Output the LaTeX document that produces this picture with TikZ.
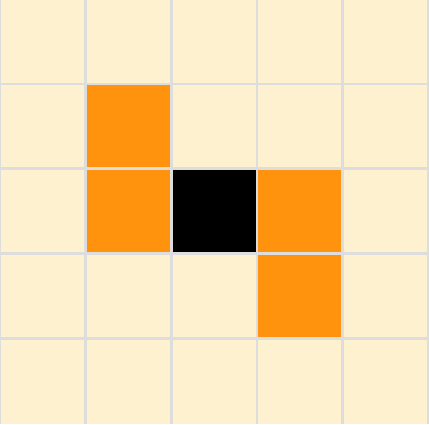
\documentclass[tikz,border=0pt]{standalone}
\definecolor{cream}{HTML}{FEF1D0}
\definecolor{hot}{HTML}{FF930D}
\definecolor{gridgray}{HTML}{DDDDDD}
\tikzset{
  hotcell/.style={fill=hot},
  coldcell/.style={fill=black},
  gridline/.style={draw=gridgray,line width=2.8pt}
}
\begin{document}
\begin{tikzpicture}[x=1pt,y=-1pt]
\useasboundingbox (0,0) rectangle (429,424);
\clip (0,0) rectangle (429,424);
\fill[cream] (0,0) rectangle (429,424);
\def\cw{85.8}\def\ch{84.8}
\foreach \c/\r in {1/1,1/2,3/2,3/3}{
  \path[hotcell] ({\c*\cw},{\r*\ch}) rectangle ({(\c+1)*\cw},{(\r+1)*\ch});
}
\path[coldcell] ({2*\cw},{2*\ch}) rectangle ({3*\cw},{3*\ch});
\foreach \i in {0,...,5}{
  \draw[gridline] ({\i*\cw-0.5},0) -- ({\i*\cw-0.5},424);
}
\foreach \i in {1,...,4}{
  \draw[gridline] (0,{\i*\ch-0.8}) -- (429,{\i*\ch-0.8});
}
\end{tikzpicture}
\end{document}
